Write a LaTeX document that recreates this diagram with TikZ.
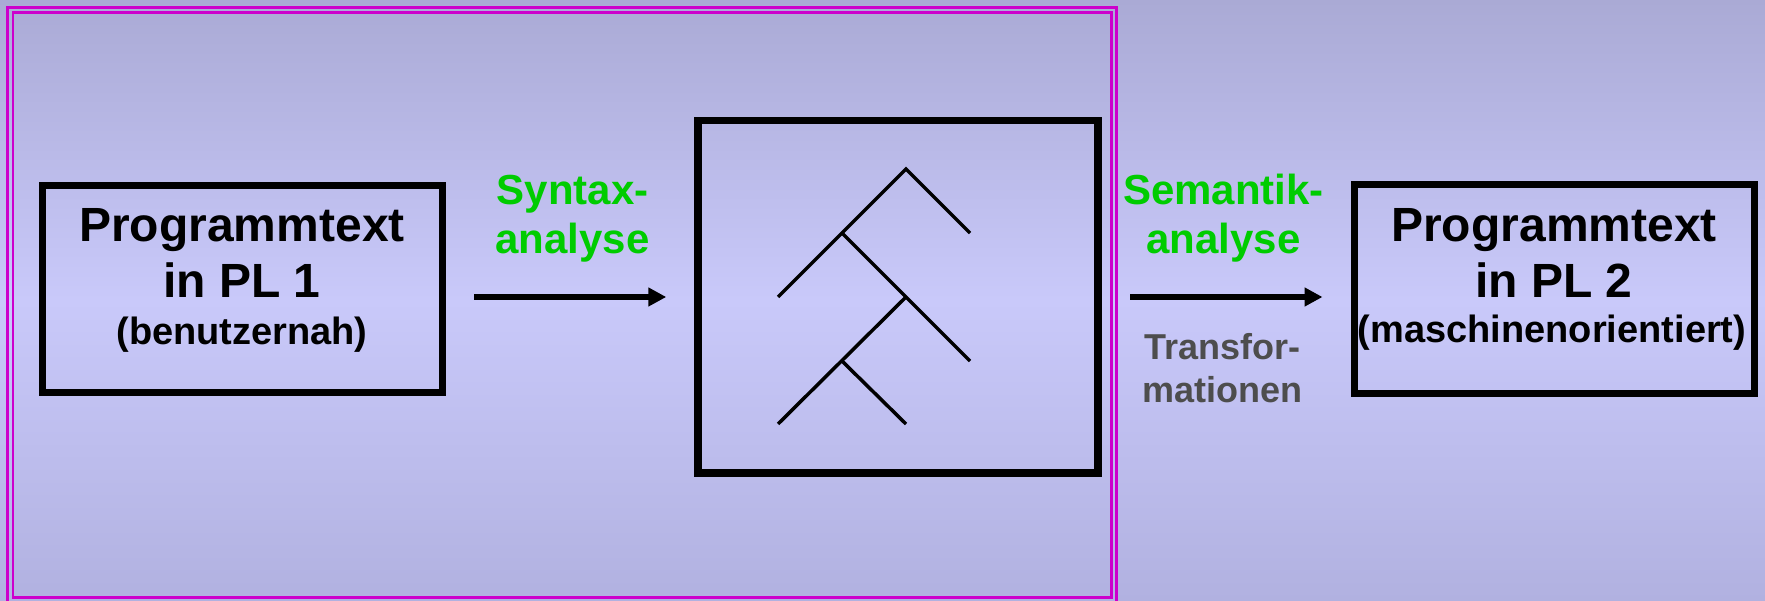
\documentclass[tikz,border=0pt]{standalone}
\usepackage{fontspec}
\setmainfont{Liberation Sans}
\usetikzlibrary{arrows.meta}
\definecolor{bgtop}{RGB}{170,170,213}
\definecolor{bgmid}{RGB}{201,201,250}
\definecolor{bgbot}{RGB}{177,177,224}
\definecolor{frameM}{RGB}{204,0,204}
\definecolor{labgreen}{RGB}{0,204,0}
\definecolor{labgray}{RGB}{77,77,77}
\tikzset{
  box/.style={draw=black, line width=7pt, inner sep=0pt, minimum width=400pt},
  bigtxt/.style={anchor=base, inner sep=0pt, font=\bfseries\fontsize{48}{56}\selectfont},
  smalltxt/.style={anchor=base, inner sep=0pt, font=\bfseries\fontsize{38}{44}\selectfont},
  greentxt/.style={anchor=base, inner sep=0pt, text=labgreen, font=\bfseries\fontsize{42}{49}\selectfont},
  graytxt/.style={anchor=base, inner sep=0pt, text=labgray, font=\bfseries\fontsize{36}{43}\selectfont},
  arr/.style={line width=5.5pt, -{Triangle[length=18pt,width=18pt]}, shorten >=28pt, shorten <=28.5pt},
  treeline/.style={line width=3.5pt, line join=miter},
  frameline/.style={draw=frameM, line width=2.6pt}
}
\begin{document}
\begin{tikzpicture}[x=1pt,y=-1pt]
\useasboundingbox (0,0) rectangle (1765,601);
\shade[top color=bgtop, bottom color=bgbot, middle color=bgmid] (0,0) rectangle (1765,601);
% magenta double frame
\draw[frameline] (7.6,7.6) rectangle (1116.6,606);
\draw[frameline] (12.8,12.6) rectangle (1111.6,597.6);
% boxes
\node[box, minimum height=207.5pt] (b1) at (242,289.25) {};
\node[box, line width=7.5pt, minimum height=352.5pt] (b2) at (898,296.75) {};
\node[box, minimum height=209pt] (b3) at (1554,289) {};
% left box text
\node[bigtxt] (t1a) at (242,241.7) {Programmtext};
\node[bigtxt] (t1b) at (242,297.7) {in PL 1};
\node[smalltxt] (t1c) at (242,345) {(benutzernah)};
% right box text
\node[bigtxt] (t3a) at (1554,241.7) {Programmtext};
\node[bigtxt] (t3b) at (1554,298) {in PL 2};
\node[smalltxt] (t3c) at (1552,343) {(maschinenorientiert)};
% labels
\node[greentxt] (l1a) at (572.5,205) {Syntax-};
\node[greentxt] (l1b) at (572.5,254) {analyse};
\node[greentxt] (l2a) at (1223.5,205) {Semantik-};
\node[greentxt] (l2b) at (1223.5,254) {analyse};
\node[graytxt] (l3a) at (1222.5,360) {Transfor-};
\node[graytxt] (l3b) at (1222.5,403) {mationen};
% arrows
\draw[arr] (b1.east |- 0,297) -- (b2.west |- 0,297);
\draw[arr] (b2.east |- 0,297) -- (b3.west |- 0,297);
% tree
\coordinate (A) at (906,169);
\coordinate (B) at (842,233);
\coordinate (C) at (778,297);
\coordinate (D) at (906,297);
\coordinate (E) at (970,361);
\coordinate (G) at (970,233);
\coordinate (F) at (842,361);
\coordinate (H) at (778,424);
\coordinate (I) at (906,424);
\draw[treeline] (C) -- (A) -- (G);
\draw[treeline] (B) -- (E);
\draw[treeline] (D) -- (H);
\draw[treeline] (F) -- (I);
\end{tikzpicture}
\end{document}
